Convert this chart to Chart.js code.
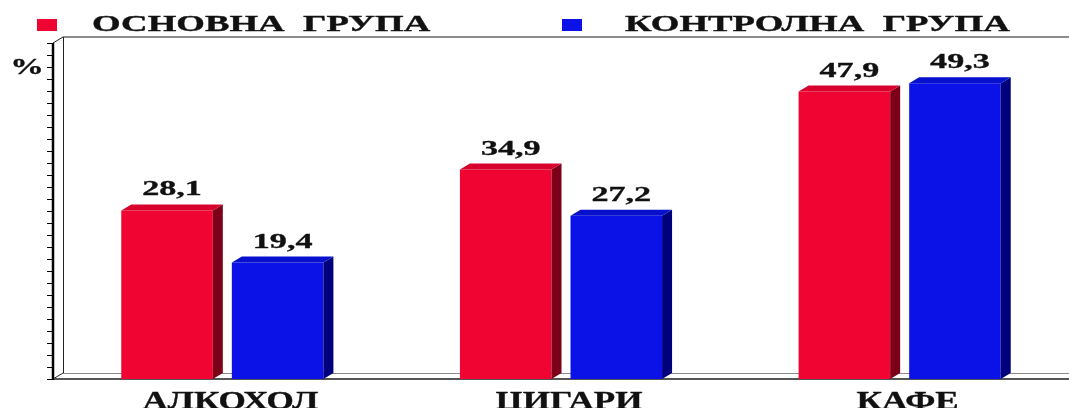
<!DOCTYPE html>
<html>
<head>
<meta charset="utf-8">
<script src="https://cdn.jsdelivr.net/npm/chart.js@4.4.0/dist/chart.umd.min.js"></script>
<style>
  html, body { margin: 0; padding: 0; background: #fff; }
  #wrap { width: 1069px; height: 408px; position: relative; }
</style>
</head>
<body>
<div id="wrap"><canvas id="chart"></canvas></div>
<script>
// data
const categories = ['АЛКОХОЛ', 'ЦИГАРИ', 'КАФЕ'];
const seriesNames = ['ОСНОВНА  ГРУПА', 'КОНТРОЛНА  ГРУПА'];
const mainGroup = [28.1, 34.9, 47.9];
const controlGroup = [19.4, 27.2, 49.3];
const yMin = 0;
const yMax = 56;
const yStep = 2;
const unitLabel = '%';

// bar faces: front / top / side
const redFaces = { front: '#F00532', top: '#D8002C', side: '#7C0018' };
const blueFaces = { front: '#0A12E8', top: '#0710CC', side: '#00007C' };

const DEPTH_X = 10;
const DEPTH_Y = 6;
const SERIF = '"Liberation Serif", "Times New Roman", serif';

function fmt(v) {
    return v.toFixed(1).replace('.', ',');
}

// text in this chart is wide and heavy: stretch it horizontally, thin outline
function wideText(ctx, text, x, y, font, sx, align) {
    ctx.save();
    ctx.font = font;
    ctx.fillStyle = '#111';
    ctx.strokeStyle = '#111';
    ctx.lineWidth = 0.35;
    ctx.textAlign = align || 'left';
    ctx.textBaseline = 'alphabetic';
    ctx.translate(x, y);
    ctx.scale(sx, 1);
    ctx.fillText(text, 0, 0);
    ctx.strokeText(text, 0, 0);
    ctx.restore();
}

const framePlugin = {
    id: 'frame3d',
    beforeDatasetsDraw(chart) {
        const { ctx, chartArea } = chart;
        const { left, right, top, bottom } = chartArea;
        const yScale = chart.scales.y;
        ctx.save();
        ctx.lineCap = 'butt';

        // back wall top edge
        ctx.strokeStyle = '#666';
        ctx.lineWidth = 1.5;
        ctx.beginPath();
        ctx.moveTo(left + DEPTH_X, top - DEPTH_Y);
        ctx.lineTo(right, top - DEPTH_Y);
        ctx.stroke();

        // floor back edge
        ctx.strokeStyle = '#8a8a8a';
        ctx.lineWidth = 1;
        ctx.beginPath();
        ctx.moveTo(left + DEPTH_X, bottom - DEPTH_Y + 0.5);
        ctx.lineTo(right, bottom - DEPTH_Y + 0.5);
        ctx.stroke();

        // side wall inner edge + corners
        ctx.strokeStyle = '#222';
        ctx.lineWidth = 1;
        ctx.beginPath();
        ctx.moveTo(left + DEPTH_X + 0.5, top - DEPTH_Y);
        ctx.lineTo(left + DEPTH_X + 0.5, bottom - DEPTH_Y);
        ctx.moveTo(left, top);
        ctx.lineTo(left + DEPTH_X, top - DEPTH_Y);
        ctx.moveTo(left, bottom);
        ctx.lineTo(left + DEPTH_X, bottom - DEPTH_Y);
        ctx.stroke();

        // floor front edge
        ctx.strokeStyle = '#555';
        ctx.lineWidth = 2;
        ctx.beginPath();
        ctx.moveTo(left, bottom);
        ctx.lineTo(right, bottom);
        ctx.stroke();

        // value axis
        ctx.strokeStyle = '#000';
        ctx.lineWidth = 2.5;
        ctx.beginPath();
        ctx.moveTo(left, top);
        ctx.lineTo(left, bottom + 1);
        ctx.stroke();

        ctx.lineWidth = 1;
        ctx.beginPath();
        for (let v = yMin; v <= yMax; v += yStep) {
            const y = Math.round(yScale.getPixelForValue(v)) + 0.5;
            ctx.moveTo(left - 6, y);
            ctx.lineTo(left, y);
        }
        ctx.stroke();
        ctx.restore();

        wideText(ctx, unitLabel, 27, 74, 'bold 24px ' + SERIF, 1.4, 'center');
    }
};

const bars3dPlugin = {
    id: 'bars3d',
    afterDatasetsDraw(chart) {
        const { ctx } = chart;
        chart.data.datasets.forEach((ds, di) => {
            const faces = ds.faces;
            chart.getDatasetMeta(di).data.forEach((bar, i) => {
                const l = bar.x - bar.width / 2;
                const r = bar.x + bar.width / 2;
                const t = bar.y;
                const b = bar.base;

                ctx.save();
                ctx.fillStyle = faces.side;
                ctx.beginPath();
                ctx.moveTo(r, t);
                ctx.lineTo(r + DEPTH_X, t - DEPTH_Y);
                ctx.lineTo(r + DEPTH_X, b - DEPTH_Y);
                ctx.lineTo(r, b);
                ctx.closePath();
                ctx.fill();

                ctx.fillStyle = faces.top;
                ctx.beginPath();
                ctx.moveTo(l, t);
                ctx.lineTo(l + DEPTH_X, t - DEPTH_Y);
                ctx.lineTo(r + DEPTH_X, t - DEPTH_Y);
                ctx.lineTo(r, t);
                ctx.closePath();
                ctx.fill();
                ctx.restore();

                wideText(ctx, fmt(ds.data[i]), bar.x + DEPTH_X / 2, t - 15,
                    'bold 22px ' + SERIF, 1.55, 'center');
            });
        });
    }
};

const labelsPlugin = {
    id: 'wideLabels',
    afterDraw(chart) {
        const { ctx } = chart;
        const xScale = chart.scales.x;

        categories.forEach((c, i) => {
            wideText(ctx, c, xScale.getPixelForValue(i) + 8, 409,
                'bold 26px ' + SERIF, 1.35, 'center');
        });

        // legend
        const legendPos = [{ box: 37, text: 92 }, { box: 562, text: 625 }];
        chart.data.datasets.forEach((ds, di) => {
            const p = legendPos[di];
            ctx.fillStyle = ds.backgroundColor;
            ctx.fillRect(p.box, 19, 20, 12);
            wideText(ctx, ds.label, p.text, 31, 'bold 23px ' + SERIF, 1.6, 'left');
        });
    }
};

const ctx = document.getElementById('chart').getContext('2d');
new Chart(ctx, {
    type: 'bar',
    data: {
        labels: categories,
        datasets: [
            {
                label: seriesNames[0],
                data: mainGroup,
                backgroundColor: redFaces.front,
                faces: redFaces
            },
            {
                label: seriesNames[1],
                data: controlGroup,
                backgroundColor: blueFaces.front,
                faces: blueFaces
            }
        ]
    },
    options: {
        responsive: true,
        maintainAspectRatio: false,
        animation: false,
        devicePixelRatio: 1,
        layout: {
            padding: { left: 53, right: 0, top: 43, bottom: 29 }
        },
        datasets: {
            bar: {
                categoryPercentage: 0.653,
                barPercentage: 0.828,
                borderWidth: 0
            }
        },
        scales: {
            x: { display: false },
            y: { display: false, min: yMin, max: yMax, ticks: { stepSize: yStep } }
        },
        plugins: {
            legend: { display: false },
            tooltip: { enabled: false }
        }
    },
    plugins: [framePlugin, bars3dPlugin, labelsPlugin]
});
</script>
</body>
</html>
